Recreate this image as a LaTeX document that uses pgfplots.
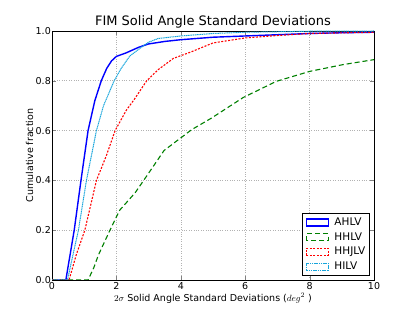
\documentclass[border=0pt]{standalone}
\usepackage{pgfplots}
\pgfplotsset{compat=1.18}
\usepackage{fontspec}
\setmainfont{DejaVu Sans}
\begin{document}
\begin{tikzpicture}
\begin{axis}[
  scale only axis, width=322pt, height=249pt,
  xmin=0, xmax=10, ymin=0, ymax=1,
  xtick={0,2,...,10}, ytick={0,0.2,...,1.0},
  yticklabel style={inner sep=1pt, /pgf/number format/.cd, fixed, fixed zerofill, precision=1},
  /pgf/number format/assume math mode=true,
  tick label style={font=\fontsize{9.5}{11}\selectfont},
  xticklabel style={inner sep=2pt},
  tick align=inside, major tick length=4pt,
  grid=major, major grid style={gray!60, dotted, line width=0.6pt},
  axis line style={line width=0.8pt},
  title={FIM Solid Angle Standard Deviations},
  title style={font=\fontsize{13}{15}\selectfont, yshift=-7pt},
  xlabel={$2\sigma$ Solid Angle Standard Deviations ($deg^2$ )},
  ylabel={Cumulative fraction},
  label style={font=\fontsize{9.5}{11}\selectfont},
  xlabel style={yshift=1.5pt},
  ylabel style={yshift=-2pt},
  legend cell align=left,
  legend style={at={(0.988,0.016)}, anchor=south east, font=\fontsize{10.5}{12}\selectfont,
    draw=black, line width=0.8pt, row sep=2.5pt, inner sep=3pt,
    nodes={inner sep=1.5pt},
    /tikz/every odd column/.style={column sep=4pt}},
  legend image code/.code={\draw[#1] (0pt,-3.5pt) rectangle (22pt,3.5pt);},
]
\addplot[blue, line width=1.4pt] coordinates {
(0,0) (0.43,0) (0.69,0.2) (0.90,0.4) (1.12,0.6) (1.33,0.72) (1.53,0.8) (1.7,0.85) (1.85,0.88) (2.0,0.898) (2.3,0.912) (2.7,0.935) (3,0.948) (3.5,0.958) (4,0.965) (5,0.975) (6,0.98) (7,0.985) (8,0.99) (9,0.993) (10,0.995)};
\addlegendentry{AHLV}
\addplot[green!50!black, line width=1.1pt, dash pattern=on 5pt off 3pt] coordinates {
(0,0) (1.12,0) (1.3,0.05) (1.44,0.1) (1.8,0.2) (2.1,0.28) (2.58,0.35) (2.9,0.41) (3.48,0.52) (4.34,0.604) (4.95,0.65) (5.94,0.733) (6.97,0.798) (8.01,0.838) (9.04,0.865) (10,0.885)};
\addlegendentry{HHLV}
\addplot[red, line width=1.1pt, dash pattern=on 2pt off 1.5pt] coordinates {
(0,0) (0.53,0) (0.75,0.1) (1.02,0.2) (1.2,0.3) (1.38,0.4) (1.69,0.5) (1.96,0.6) (2.3,0.68) (2.58,0.73) (2.94,0.8) (3.3,0.845) (3.77,0.89) (4.3,0.915) (5,0.952) (6,0.972) (7,0.982) (8,0.99) (10,0.995)};
\addlegendentry{HHJLV}
\addplot[cyan!80!teal, line width=1.0pt, dash pattern=on 1.2pt off 0.6pt] coordinates {
(0,0) (0.48,0) (0.82,0.2) (1.07,0.4) (1.38,0.6) (1.6,0.7) (1.93,0.8) (2.15,0.85) (2.42,0.9) (2.78,0.935) (3.0,0.955) (3.3,0.97) (4,0.98) (5,0.99) (6,0.995) (8,0.999) (10,1.0)};
\addlegendentry{HILV}
\end{axis}
\path (current axis.south west) ++(-52pt,-32pt) rectangle ++(415pt,312pt);
\end{tikzpicture}
\end{document}
